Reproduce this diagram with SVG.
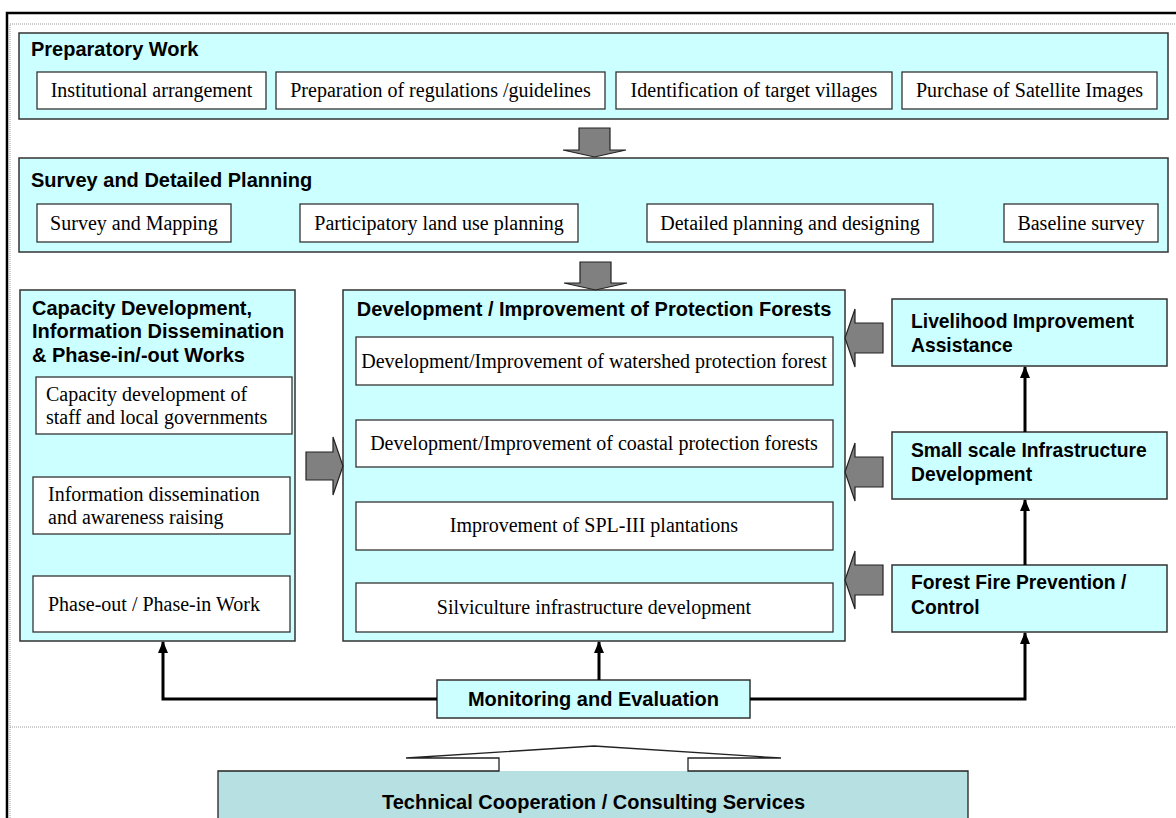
<svg xmlns="http://www.w3.org/2000/svg" width="1176" height="818" viewBox="0 0 1176 818">
  <defs>
    <style>
      .panel { fill: #ccffff; stroke: #333; stroke-width: 1.5; }
      .item { fill: #ffffff; stroke: #333; stroke-width: 1.3; }
      .title { font-family: "Liberation Sans", Arial, sans-serif; font-weight: bold; font-size: 20px; fill: #000; }
      .side { font-size: 19.3px; }
      .body { font-family: "Liberation Serif", "Times New Roman", serif; font-size: 20px; fill: #000; }
      .block { fill: #808080; stroke: #222; stroke-width: 1.2; }
      .link { fill: none; stroke: #000; stroke-width: 3; }
      .dots { fill: none; stroke: #999; stroke-width: 1; stroke-dasharray: 1 1; }
    </style>
    <marker id="head" viewBox="0 0 12 10" refX="11" refY="5" markerWidth="4" markerHeight="3.33" orient="auto" markerUnits="strokeWidth">
      <path d="M0,0 L12,5 L0,10 Z" fill="#000"/>
    </marker>
  </defs>

  <rect width="1176" height="818" fill="#ffffff"/>

  <!-- page frame -->
  <g id="frame">
    <path d="M7,818 V13 H1176" fill="none" stroke="#000" stroke-width="2.5"/>
    <path class="dots" d="M10,818 V24 H1176"/>
    <path class="dots" d="M10,727 H1176"/>
  </g>

  <!-- preparatory work -->
  <g id="prep">
    <rect class="panel" x="19" y="33" width="1149" height="86"/>
    <text class="title" x="31" y="56">Preparatory Work</text>
    <rect class="item" x="37" y="72" width="229" height="37"/>
    <text class="body" x="151.5" y="97" text-anchor="middle">Institutional arrangement</text>
    <rect class="item" x="276" y="72" width="329" height="37"/>
    <text class="body" x="440.5" y="97" text-anchor="middle">Preparation of regulations /guidelines</text>
    <rect class="item" x="616" y="72" width="276" height="37"/>
    <text class="body" x="754" y="97" text-anchor="middle">Identification of target villages</text>
    <rect class="item" x="902" y="72" width="255" height="37"/>
    <text class="body" x="1029.5" y="97" text-anchor="middle">Purchase of Satellite Images</text>
  </g>

  <!-- survey and planning -->
  <g id="survey">
    <rect class="panel" x="19" y="158" width="1149" height="94"/>
    <text class="title" x="31" y="187">Survey and Detailed Planning</text>
    <rect class="item" x="37" y="204" width="194" height="38"/>
    <text class="body" x="134" y="230" text-anchor="middle">Survey and Mapping</text>
    <rect class="item" x="300" y="204" width="278" height="38"/>
    <text class="body" x="439" y="230" text-anchor="middle">Participatory land use planning</text>
    <rect class="item" x="647" y="204" width="286" height="38"/>
    <text class="body" x="790" y="230" text-anchor="middle">Detailed planning and designing</text>
    <rect class="item" x="1004" y="204" width="154" height="38"/>
    <text class="body" x="1081" y="230" text-anchor="middle">Baseline survey</text>
  </g>

  <!-- capacity development -->
  <g id="capacity">
    <rect class="panel" x="20" y="290" width="275" height="351"/>
    <text class="title" x="32" y="315">Capacity Development,</text>
    <text class="title" x="32" y="338">Information Dissemination</text>
    <text class="title" x="32" y="362">&amp; Phase-in/-out Works</text>
    <rect class="item" x="36" y="377" width="256" height="57"/>
    <text class="body" x="46" y="401">Capacity development of</text>
    <text class="body" x="46" y="424">staff and local governments</text>
    <rect class="item" x="33" y="477" width="257" height="57"/>
    <text class="body" x="48" y="501">Information dissemination</text>
    <text class="body" x="48" y="524">and awareness raising</text>
    <rect class="item" x="33" y="576" width="257" height="56"/>
    <text class="body" x="48" y="611">Phase-out / Phase-in Work</text>
  </g>

  <!-- protection forests -->
  <g id="forests">
    <rect class="panel" x="343" y="290" width="502" height="351"/>
    <text class="title" x="594" y="316" text-anchor="middle">Development / Improvement of Protection Forests</text>
    <rect class="item" x="356" y="337" width="477" height="48"/>
    <text class="body" x="594" y="368" text-anchor="middle">Development/Improvement of watershed protection forest</text>
    <rect class="item" x="356" y="420" width="477" height="47"/>
    <text class="body" x="594" y="450" text-anchor="middle">Development/Improvement of coastal protection forests</text>
    <rect class="item" x="356" y="502" width="477" height="48"/>
    <text class="body" x="594" y="532" text-anchor="middle">Improvement of SPL-III plantations</text>
    <rect class="item" x="356" y="583" width="477" height="49"/>
    <text class="body" x="594" y="614" text-anchor="middle">Silviculture infrastructure development</text>
  </g>

  <!-- livelihood -->
  <g id="livelihood">
    <rect class="panel" x="892" y="299" width="275" height="67"/>
    <text class="title side" x="911" y="328">Livelihood Improvement</text>
    <text class="title side" x="911" y="352">Assistance</text>
  </g>

  <!-- small scale infrastructure -->
  <g id="infrastructure">
    <rect class="panel" x="892" y="432" width="275" height="67"/>
    <text class="title side" x="911" y="457">Small scale Infrastructure</text>
    <text class="title side" x="911" y="481">Development</text>
  </g>

  <!-- fire prevention -->
  <g id="fire">
    <rect class="panel" x="892" y="565" width="275" height="67"/>
    <text class="title side" x="911" y="589">Forest Fire Prevention /</text>
    <text class="title side" x="911" y="614">Control</text>
  </g>

  <!-- monitoring -->
  <g id="monitoring">
    <rect class="panel" x="437" y="680" width="313" height="38"/>
    <text class="title" x="593.5" y="706" text-anchor="middle">Monitoring and Evaluation</text>
  </g>

  <!-- technical cooperation (up-arrow callout) -->
  <g id="cooperation">
    <rect x="218" y="771" width="750" height="50" fill="#b7e0e3"/>
    <path d="M218,820 V771 H499 V758 H406 L594,746 L781,758 H688 V771 H968 V820" fill="none" stroke="#222" stroke-width="1.3"/>
    <text class="title" x="593.5" y="809" text-anchor="middle">Technical Cooperation / Consulting Services</text>
  </g>

  <!-- connectors -->
  <g id="connectors">
    <!-- block arrows -->
    <path class="block" d="M579,128 H610 V150 H626 L594.5,157 L563,150 H579 Z"/>
    <path class="block" d="M580,262 H611 V283 H627 L595.5,290 L564,283 H580 Z"/>
    <path class="block" d="M306,452 H333 V437 L343,466 L333,495 V480 H306 Z"/>
    <path class="block" d="M883,323 H855 V309 L845,338 L855,367 V353 H883 Z"/>
    <path class="block" d="M883,457 H855 V443 L845,472 L855,501 V487 H883 Z"/>
    <path class="block" d="M883,565 H855 V551 L845,580 L855,609 V595 H883 Z"/>
    <!-- feedback lines -->
    <path class="link" d="M1025,565 V500" marker-end="url(#head)"/>
    <path class="link" d="M1025,432 V367" marker-end="url(#head)"/>
    <path class="link" d="M599,680 V642" marker-end="url(#head)"/>
    <path class="link" d="M437,699 H163 V642" marker-end="url(#head)"/>
    <path class="link" d="M750,699 H1025 V633" marker-end="url(#head)"/>
  </g>
</svg>
